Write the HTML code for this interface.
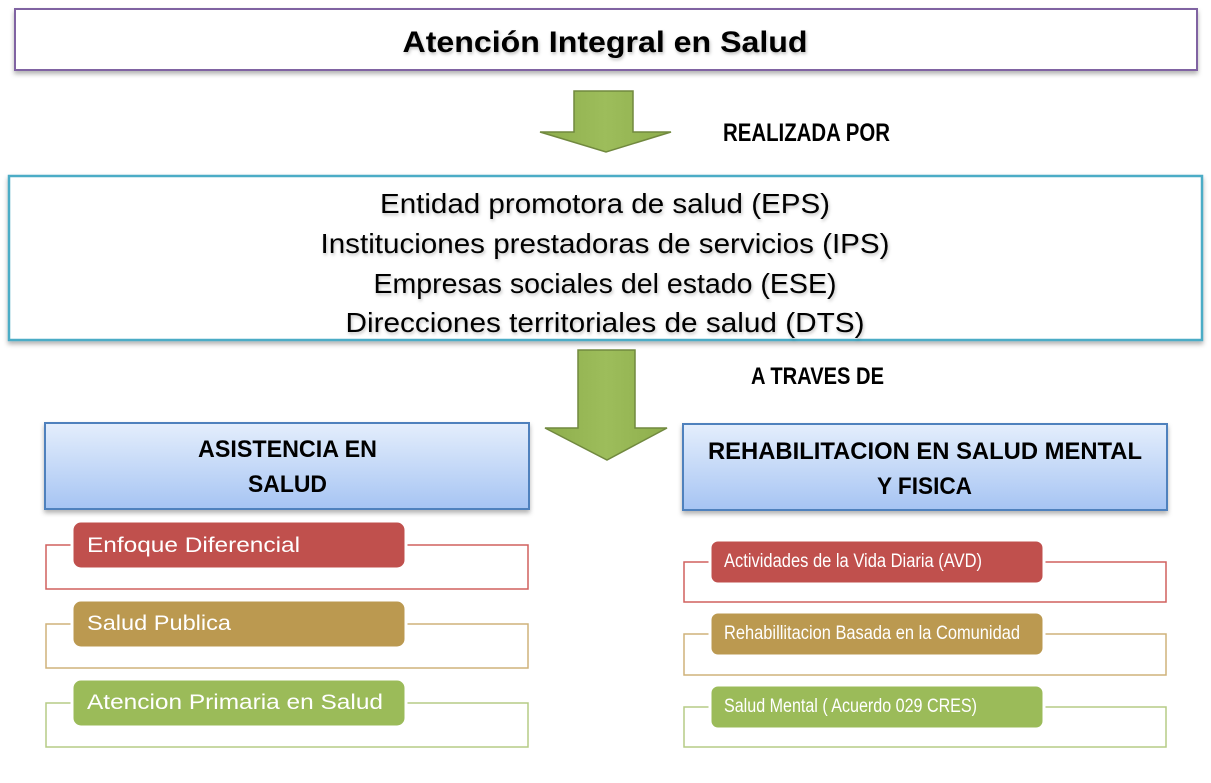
<!DOCTYPE html>
<html>
<head>
<meta charset="utf-8">
<style>
html,body{margin:0;padding:0;background:#fff;}
svg{display:block;}
text{font-family:"Liberation Sans", sans-serif;}
</style>
</head>
<body>
<svg width="1211" height="783" viewBox="0 0 1211 783" xmlns="http://www.w3.org/2000/svg">
<defs>
  <linearGradient id="hdr" x1="0" y1="0" x2="0" y2="1">
    <stop offset="0" stop-color="#e4eefc"/>
    <stop offset="1" stop-color="#a6c4f3"/>
  </linearGradient>
  <linearGradient id="arr" x1="0" y1="0" x2="1" y2="0">
    <stop offset="0" stop-color="#8eae4c"/>
    <stop offset="0.5" stop-color="#9dbd5b"/>
    <stop offset="1" stop-color="#8eae4c"/>
  </linearGradient>
  <filter id="sh" x="-5%" y="-20%" width="110%" height="150%">
    <feDropShadow dx="0" dy="3" stdDeviation="2.5" flood-color="#000" flood-opacity="0.3"/>
  </filter>
  <filter id="tsh" x="-5%" y="-30%" width="110%" height="160%">
    <feDropShadow dx="1" dy="2" stdDeviation="1.5" flood-color="#000" flood-opacity="0.25"/>
  </filter>
</defs>

<!-- Title box -->
<rect x="15" y="9" width="1182" height="61" fill="#fff" stroke="#8064a2" stroke-width="2" filter="url(#sh)"/>
<text x="605" y="52" text-anchor="middle" font-size="30" font-weight="bold" fill="#000" textLength="405" lengthAdjust="spacingAndGlyphs" filter="url(#tsh)">Atención Integral en Salud</text>

<!-- Arrow 1 -->
<polygon points="574,91 633,91 633,132 671,132 606,152 540,132 574,132" fill="url(#arr)" stroke="#71893f" stroke-width="1.5"/>
<text x="723" y="141" font-size="25" font-weight="bold" fill="#000" textLength="167" lengthAdjust="spacingAndGlyphs">REALIZADA POR</text>

<!-- Box 2 -->
<rect x="9" y="176" width="1193" height="164" fill="#fff" stroke="#4bacc6" stroke-width="2.5" filter="url(#sh)"/>
<g font-size="28" fill="#000" text-anchor="middle" filter="url(#tsh)">
  <text x="605" y="213" textLength="450" lengthAdjust="spacingAndGlyphs">Entidad promotora de salud (EPS)</text>
  <text x="605" y="253" textLength="569" lengthAdjust="spacingAndGlyphs">Instituciones prestadoras de servicios (IPS)</text>
  <text x="605" y="293" textLength="463" lengthAdjust="spacingAndGlyphs">Empresas sociales del estado (ESE)</text>
  <text x="605" y="332" textLength="519" lengthAdjust="spacingAndGlyphs">Direcciones territoriales de salud (DTS)</text>
</g>

<!-- Arrow 2 -->
<polygon points="578,350 635,350 635,428 667,428 607,460 545,428 578,428" fill="url(#arr)" stroke="#71893f" stroke-width="1.5"/>
<text x="751" y="384" font-size="24" font-weight="bold" fill="#000" textLength="133" lengthAdjust="spacingAndGlyphs">A TRAVES DE</text>

<!-- Left header -->
<rect x="45" y="423" width="484" height="86" fill="url(#hdr)" stroke="#4f81bd" stroke-width="2" filter="url(#sh)"/>
<text x="198" y="457" font-size="24" font-weight="bold" fill="#000" textLength="179" lengthAdjust="spacingAndGlyphs">ASISTENCIA EN</text>
<text x="248" y="492" font-size="24" font-weight="bold" fill="#000" textLength="79" lengthAdjust="spacingAndGlyphs">SALUD</text>

<!-- Right header -->
<rect x="683" y="424" width="484" height="86" fill="url(#hdr)" stroke="#4f81bd" stroke-width="2" filter="url(#sh)"/>
<text x="708" y="459" font-size="24" font-weight="bold" fill="#000" textLength="434" lengthAdjust="spacingAndGlyphs">REHABILITACION EN SALUD MENTAL</text>
<text x="877" y="494" font-size="24" font-weight="bold" fill="#000" textLength="95" lengthAdjust="spacingAndGlyphs">Y FISICA</text>

<!-- Left list -->
<rect x="46" y="545" width="482" height="44" fill="#fff" stroke="#d0605e" stroke-width="1.5"/>
<rect x="72" y="521" width="334" height="48" rx="9" fill="#c0504d" stroke="#fff" stroke-width="3"/>
<text x="87" y="552" font-size="21" fill="#fff" textLength="213" lengthAdjust="spacingAndGlyphs">Enfoque Diferencial</text>

<rect x="46" y="624" width="482" height="44" fill="#fff" stroke="#cfb27a" stroke-width="1.5"/>
<rect x="72" y="600" width="334" height="48" rx="9" fill="#bb9950" stroke="#fff" stroke-width="3"/>
<text x="87" y="630" font-size="21" fill="#fff" textLength="144" lengthAdjust="spacingAndGlyphs">Salud Publica</text>

<rect x="46" y="703" width="482" height="44" fill="#fff" stroke="#b5cc85" stroke-width="1.5"/>
<rect x="72" y="679" width="334" height="48" rx="9" fill="#9bbb59" stroke="#fff" stroke-width="3"/>
<text x="87" y="709" font-size="21" fill="#fff" textLength="296" lengthAdjust="spacingAndGlyphs">Atencion Primaria en Salud</text>

<!-- Right list -->
<rect x="684" y="562" width="482" height="40" fill="#fff" stroke="#d0605e" stroke-width="1.5"/>
<rect x="710" y="540" width="334" height="44" rx="8" fill="#c0504d" stroke="#fff" stroke-width="3"/>
<text x="724" y="567" font-size="19" fill="#fff" textLength="258" lengthAdjust="spacingAndGlyphs">Actividades de la Vida Diaria (AVD)</text>

<rect x="684" y="634" width="482" height="41" fill="#fff" stroke="#cfb27a" stroke-width="1.5"/>
<rect x="710" y="612" width="334" height="44" rx="8" fill="#bb9950" stroke="#fff" stroke-width="3"/>
<text x="724" y="639" font-size="19" fill="#fff" textLength="296" lengthAdjust="spacingAndGlyphs">Rehabillitacion Basada en la Comunidad</text>

<rect x="684" y="707" width="482" height="40" fill="#fff" stroke="#b5cc85" stroke-width="1.5"/>
<rect x="710" y="685" width="334" height="44" rx="8" fill="#9bbb59" stroke="#fff" stroke-width="3"/>
<text x="724" y="712" font-size="19" fill="#fff" textLength="253" lengthAdjust="spacingAndGlyphs">Salud Mental ( Acuerdo 029 CRES)</text>
</svg>
</body>
</html>
